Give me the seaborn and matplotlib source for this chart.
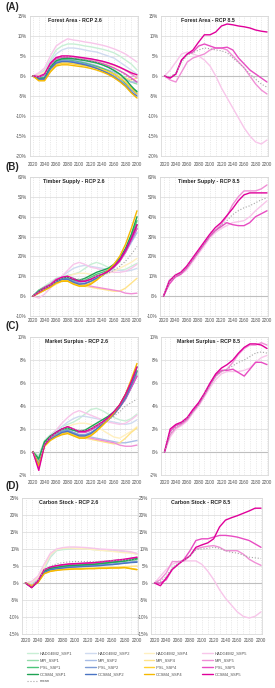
import matplotlib
matplotlib.use('Agg')
import matplotlib.pyplot as plt
import seaborn as sns

# ---------------- data (percent change vs 2020) ----------------
YEARS = list(range(2020, 2201, 10))

MODELS = ['HADGEM2', 'MPI', 'IPSL', 'CCSM4']
SSPS = ['SSP1', 'SSP2', 'SSP4', 'SSP5']

forest_26 = {
    'HADGEM2_SSP1': [0, 0.5, 1.5, 4, 6.5, 7.5, 8, 8, 7.8, 7.5, 7.3, 7, 6.7, 6.3, 5.8, 5, 4, 3, 1.5],
    'HADGEM2_SSP2': [0, 0.5, 1.2, 3.5, 5.5, 6.5, 7, 7, 6.8, 6.5, 6.2, 6, 5.5, 5, 4.5, 3.5, 2.5, 1.5, 0.5],
    'HADGEM2_SSP4': [0, 0.3, 1, 3, 4.5, 5, 5, 4.8, 4.5, 4.2, 4, 3.8, 3.5, 3, 2.5, 2, 1.5, 1, 0],
    'HADGEM2_SSP5': [0, 0.8, 2, 5, 7.5, 8.5, 9.3, 9, 8.8, 8.5, 8.3, 8, 7.7, 7.3, 6.8, 6.2, 5.5, 4.5, 3.5],
    'MPI_SSP1': [0, -0.5, -0.3, 2.5, 4, 4.5, 4.5, 4.3, 4, 3.8, 3.5, 3.2, 2.8, 2.2, 1.5, 0.5, -0.5, -1.5, -2],
    'MPI_SSP2': [0, -0.4, 0, 2.5, 3.8, 4.2, 4.2, 4, 3.7, 3.4, 3, 2.6, 2, 1.5, 1, 0, -1, -1.5, -1.5],
    'MPI_SSP4': [0, -0.8, -0.8, 1.5, 3, 3.5, 3.5, 3.3, 3, 2.7, 2.4, 2, 1.5, 1, 0.5, 0, -0.5, -1, -0.5],
    'MPI_SSP5': [0, 0, 0.5, 3, 4.5, 5, 5, 4.8, 4.6, 4.4, 4.2, 4, 3.6, 3.2, 2.8, 2.2, 1.5, 0.5, -0.5],
    'IPSL_SSP1': [0, -0.6, -0.6, 2, 3.5, 4, 4, 3.8, 3.5, 3.2, 2.8, 2.4, 1.9, 1.3, 0.5, -0.5, -1.8, -3, -3.8],
    'IPSL_SSP2': [0, -0.5, -0.5, 2, 3.5, 3.8, 3.8, 3.6, 3.3, 3, 2.6, 2.1, 1.5, 0.8, 0, -1, -2.2, -3.5, -4.5],
    'IPSL_SSP4': [0, -1, -1, 1.2, 2.8, 3.2, 3.2, 3, 2.8, 2.6, 2.3, 2, 1.6, 1.1, 0.5, -0.5, -1.5, -3, -4.5],
    'IPSL_SSP5': [0, -0.3, 0.3, 2.8, 4.3, 4.6, 4.6, 4.4, 4.2, 4, 3.8, 3.5, 3.1, 2.6, 2, 1.3, 0.5, -0.5, -1.5],
    'CCSM4_SSP1': [0, -0.6, -0.5, 2.2, 3.8, 4.3, 4.4, 4.3, 4.1, 3.9, 3.6, 3.3, 2.8, 2.2, 1.4, 0.5, -0.8, -2.5, -4],
    'CCSM4_SSP2': [0, -0.8, -0.8, 1.8, 3.2, 3.6, 3.6, 3.4, 3.1, 2.8, 2.4, 1.9, 1.3, 0.6, -0.3, -1.3, -2.5, -4, -5],
    'CCSM4_SSP4': [0, -1.2, -1.2, 1, 2.5, 2.8, 2.8, 2.6, 2.4, 2.2, 1.9, 1.5, 1, 0.4, -0.4, -1.4, -2.6, -4.2, -5.5],
    'CCSM4_SSP5': [0, -0.2, 0.5, 3.2, 4.6, 5, 5, 4.9, 4.7, 4.5, 4.3, 4, 3.7, 3.3, 2.8, 2.2, 1.5, 0.8, 0.3],
    'mean': [0, -0.3, 0.2, 2.6, 4.2, 4.7, 4.8, 4.6, 4.3, 4.1, 3.8, 3.5, 3.1, 2.6, 2, 1.2, 0.2, -0.8, -1.5],
}
forest_85 = {
    'HADGEM2_SSP5': [0, 1.5, 3.5, 5.5, 6, 5.5, 5, 4, 2.5, 0, -3, -5.5, -8, -10.5, -13, -15, -16.5, -17, -16],
    'MPI_SSP5': [0, -1, -1.5, 1, 3.5, 4.5, 5, 5.5, 6.5, 7, 7, 6.5, 5, 3.5, 2, 0, -2, -3.5, -4.5],
    'IPSL_SSP5': [0, -0.5, 0.5, 4, 5.5, 6, 7.5, 8, 7.5, 7, 7, 7.2, 6.5, 4.5, 3, 1.5, 0.5, -0.5, -1.5],
    'CCSM4_SSP5': [0, -0.5, 0.5, 4, 5.5, 6.5, 8.5, 10.3, 10.3, 11, 12.5, 13, 12.8, 12.5, 12.3, 12, 11.5, 11.2, 11],
    'mean': [0, -0.2, 0.8, 3.5, 5.2, 5.8, 6.5, 7, 6.8, 6.5, 6.3, 5.8, 4.5, 3.3, 2, 0.5, -0.8, -2, -2.8],
}

timber_26 = {
    'HADGEM2_SSP1': [0, 3, 5, 7, 9, 10, 10.5, 11, 12, 14, 16, 17, 16, 14.5, 13.5, 13, 13.5, 15, 16.5],
    'HADGEM2_SSP2': [0, 2, 4, 6, 8, 10, 12, 14, 15, 15.5, 15, 14.5, 14, 13.5, 13, 13, 12.5, 13, 14],
    'HADGEM2_SSP4': [0, 2, 3.5, 5, 7, 8.5, 10, 11, 11.5, 11.5, 11, 10.5, 11, 11.5, 12.5, 14, 15.5, 17, 19],
    'HADGEM2_SSP5': [0, -1, 1, 4, 7, 10, 13, 16, 17, 16, 14.5, 14, 13, 12.5, 12, 12, 12.5, 14, 16],
    'MPI_SSP1': [0, 2.5, 4, 5.5, 7.5, 9, 9.5, 8.5, 7.5, 7.5, 8.5, 10, 11, 12.5, 14.5, 17.5, 22, 28, 35],
    'MPI_SSP2': [0, 2, 3.5, 5, 7, 8.5, 9, 7.5, 6.5, 6.5, 7.5, 9, 10.5, 12.5, 15, 18, 22, 27, 32],
    'MPI_SSP4': [0, 1.5, 3, 4.5, 6, 7.5, 8, 7, 6, 5, 4.5, 4, 3.5, 3, 2.5, 2.5, 4, 6.5, 9],
    'MPI_SSP5': [0, 1.5, 3, 5, 7, 8.5, 9, 8, 7, 6, 5, 4.5, 4, 3.5, 3, 2.5, 1.5, 1.2, 1.5],
    'IPSL_SSP1': [0, 3, 4.5, 6, 8, 9, 9, 8, 7.5, 8, 9.5, 11, 12, 13, 15, 18, 23, 30, 38],
    'IPSL_SSP2': [0, 2.5, 4, 5.5, 7.5, 9, 9, 7.5, 6.5, 6.5, 7.5, 9, 10.5, 12.5, 15, 18, 23, 28, 34],
    'IPSL_SSP4': [0, 2, 3.5, 5, 7, 8, 8, 6.5, 5.5, 5.5, 6.5, 8.5, 10.5, 12.5, 15, 18, 23, 29, 36],
    'IPSL_SSP5': [0, 2.5, 4.5, 6, 8.5, 9.5, 10, 9, 7.5, 7.5, 8.5, 10, 11, 12.5, 14.5, 17.5, 22, 28, 34],
    'CCSM4_SSP1': [0, 2.5, 4, 5.5, 7.5, 9, 9.5, 8.5, 8, 9, 10.5, 12, 13, 14, 16, 19, 24, 31, 40],
    'CCSM4_SSP2': [0, 2, 3.5, 5, 7, 8.5, 8.5, 7, 6, 6.3, 7.5, 9, 10.5, 12.5, 15, 18.5, 23, 29, 36],
    'CCSM4_SSP4': [0, 1.5, 3, 4.5, 6.5, 7.5, 7.5, 6, 5, 5, 6, 8, 10.5, 13, 16, 20, 26, 34, 43],
    'CCSM4_SSP5': [0, 2, 4, 5.5, 8, 9.5, 10, 8.5, 7.5, 7.5, 8.5, 10, 11, 12.5, 15, 18, 23, 29, 36],
    'mean': [0, 2.2, 3.8, 5.5, 7.5, 9, 9.5, 9, 8.5, 8.5, 9, 10, 10.5, 11.5, 13, 15, 17.5, 21, 25],
}
timber_85 = {
    'HADGEM2_SSP5': [0, 7, 10, 11, 13, 17, 21, 25, 29, 32, 34, 35.5, 37, 37.5, 38, 40, 43, 45.5, 48],
    'MPI_SSP5': [0, 8, 10, 11.5, 14, 18, 22, 26, 30, 33, 36, 40, 46, 50, 53, 53, 53, 54, 56],
    'IPSL_SSP5': [0, 6, 9.5, 11, 14, 18, 22, 26, 30, 33, 35, 37, 36, 35.5, 35.5, 37, 40, 41.5, 43],
    'CCSM4_SSP5': [0, 7.5, 10.5, 12, 15, 19, 23, 27, 31, 34.5, 37, 40.5, 44, 48, 51, 52, 52, 52, 52],
    'mean': [0, 7, 10, 11.5, 14, 18, 22, 26, 30, 33, 35.5, 38, 41, 43, 44.5, 45.5, 47, 48.5, 49.5],
}

market_26 = {
    'HADGEM2_SSP1': [0, -0.3, 1.0, 1.5, 1.9, 2.2, 2.4, 2.6, 2.9, 3.3, 3.7, 3.8, 3.6, 3.3, 3.0, 2.8, 2.7, 2.9, 3.3],
    'HADGEM2_SSP2': [0, -0.4, 0.9, 1.4, 1.8, 2.2, 2.6, 2.9, 3.1, 3.1, 3.0, 2.9, 2.8, 2.7, 2.6, 2.5, 2.4, 2.5, 2.8],
    'HADGEM2_SSP4': [0, -0.6, 0.8, 1.3, 1.6, 1.9, 2.2, 2.4, 2.5, 2.5, 2.4, 2.2, 1.9, 1.6, 1.3, 1.2, 1.5, 1.8, 2.2],
    'HADGEM2_SSP5': [0, -1.3, 0.6, 1.3, 1.9, 2.5, 3.0, 3.4, 3.6, 3.4, 3.2, 3.0, 2.8, 2.6, 2.5, 2.4, 2.5, 2.8, 3.2],
    'MPI_SSP1': [0, -0.5, 0.9, 1.3, 1.6, 1.9, 2.0, 1.9, 1.7, 1.7, 1.9, 2.2, 2.5, 2.9, 3.3, 3.9, 4.6, 5.6, 6.8],
    'MPI_SSP2': [0, -0.9, 0.7, 1.2, 1.5, 1.8, 1.9, 1.7, 1.5, 1.4, 1.3, 1.2, 1.1, 1.0, 0.9, 0.8, 0.8, 0.9, 1.0],
    'MPI_SSP4': [0, -0.8, 0.7, 1.2, 1.5, 1.7, 1.7, 1.5, 1.3, 1.2, 1.1, 1.0, 0.9, 0.8, 0.7, 0.8, 1.2, 1.7, 2.1],
    'MPI_SSP5': [0, -1.1, 0.7, 1.2, 1.5, 1.7, 1.8, 1.6, 1.4, 1.3, 1.2, 1.1, 1.0, 0.9, 0.8, 0.6, 0.5, 0.5, 0.6],
    'IPSL_SSP1': [0, -0.7, 0.8, 1.3, 1.6, 1.9, 2.0, 1.9, 1.7, 1.8, 2.0, 2.3, 2.6, 3.0, 3.4, 4.0, 4.8, 5.9, 7.1],
    'IPSL_SSP2': [0, -1.0, 0.7, 1.2, 1.5, 1.8, 1.9, 1.7, 1.5, 1.5, 1.7, 2.0, 2.4, 2.8, 3.3, 3.9, 4.6, 5.6, 6.6],
    'IPSL_SSP4': [0, -1.0, 0.6, 1.1, 1.4, 1.6, 1.7, 1.5, 1.3, 1.3, 1.5, 1.9, 2.3, 2.8, 3.3, 3.9, 4.7, 5.8, 7.0],
    'IPSL_SSP5': [0, -1.4, 0.7, 1.3, 1.7, 2.0, 2.2, 2.0, 1.7, 1.7, 1.9, 2.2, 2.5, 2.9, 3.3, 3.9, 4.6, 5.6, 6.6],
    'CCSM4_SSP1': [0, -0.6, 0.9, 1.4, 1.7, 2.0, 2.1, 1.9, 1.8, 1.9, 2.2, 2.5, 2.8, 3.1, 3.5, 4.1, 5.0, 6.1, 7.4],
    'CCSM4_SSP2': [0, -1.1, 0.6, 1.1, 1.4, 1.7, 1.8, 1.6, 1.4, 1.4, 1.6, 2.0, 2.4, 2.8, 3.3, 3.9, 4.7, 5.8, 7.0],
    'CCSM4_SSP4': [0, -1.2, 0.5, 1.0, 1.3, 1.5, 1.6, 1.4, 1.2, 1.2, 1.4, 1.8, 2.3, 2.8, 3.4, 4.1, 5.0, 6.3, 7.7],
    'CCSM4_SSP5': [0, -1.6, 0.6, 1.3, 1.7, 2.0, 2.2, 2.0, 1.8, 1.8, 2.0, 2.3, 2.6, 3.0, 3.5, 4.1, 5.0, 6.1, 7.4],
    'mean': [0, -0.9, 0.7, 1.3, 1.6, 1.9, 2.1, 2.0, 1.9, 1.9, 2.0, 2.3, 2.5, 2.8, 3.1, 3.5, 4.0, 4.3, 4.6],
}
market_85 = {
    'HADGEM2_SSP5': [0, 1.3, 2.0, 2.3, 2.7, 3.4, 4.0, 4.8, 5.6, 6.3, 6.8, 7.0, 7.0, 7.0, 7.1, 7.3, 7.8, 8.2, 8.4],
    'MPI_SSP5': [0, 1.5, 2.1, 2.4, 2.8, 3.5, 4.1, 4.9, 5.8, 6.6, 7.0, 7.2, 7.8, 8.5, 9.0, 9.3, 9.3, 9.5, 9.3],
    'IPSL_SSP5': [0, 1.8, 2.3, 2.5, 2.9, 3.6, 4.2, 5.0, 5.9, 6.7, 7.1, 7.1, 7.2, 6.9, 6.6, 7.2, 7.8, 7.8, 7.6],
    'CCSM4_SSP5': [0, 2.0, 2.4, 2.6, 3.0, 3.7, 4.3, 5.1, 6.0, 6.8, 7.3, 7.6, 8.0, 8.6, 9.1, 9.4, 9.4, 9.3, 9.0],
    'mean': [0, 1.6, 2.2, 2.5, 2.9, 3.5, 4.1, 5.0, 5.8, 6.6, 7.0, 7.2, 7.5, 7.8, 8.0, 8.3, 8.6, 8.7, 8.6],
}

carbon_26 = {
    'HADGEM2_SSP1': [0, -0.2, 1, 4, 7.5, 9.5, 9.8, 10, 10.2, 10.2, 10, 9.8, 9.7, 9.5, 9.5, 9.3, 9.2, 9, 8.5],
    'HADGEM2_SSP2': [0, 0, 1.2, 4.5, 8, 9.8, 10.2, 10.3, 10.3, 10.2, 10.1, 10, 9.8, 9.7, 9.6, 9.4, 9.2, 9, 8.6],
    'HADGEM2_SSP4': [0, 0.3, 1.5, 4.8, 8.3, 9.8, 10.2, 10.3, 10.2, 10.1, 10, 9.8, 9.6, 9.5, 9.3, 9.1, 8.9, 8.8, 8.5],
    'HADGEM2_SSP5': [0, 0.5, 2, 5.5, 8.7, 10, 10.4, 10.6, 10.6, 10.5, 10.4, 10.2, 10, 9.9, 9.8, 9.6, 9.4, 9.2, 8.7],
    'MPI_SSP1': [0, -1, 0.5, 3.5, 4.3, 4.6, 5, 5.2, 5.3, 5.4, 5.5, 5.6, 5.8, 6, 6.2, 6.4, 6.6, 6.8, 7],
    'MPI_SSP2': [0, -0.8, 0.5, 3.3, 4, 4.3, 4.6, 4.8, 4.9, 5, 5.1, 5.2, 5.3, 5.5, 5.6, 5.8, 6, 6.2, 6.4],
    'MPI_SSP4': [0, -0.6, 0.3, 3, 3.7, 3.9, 4.1, 4.2, 4.3, 4.3, 4.4, 4.4, 4.5, 4.6, 4.6, 4.7, 4.8, 4.9, 5],
    'MPI_SSP5': [0, -0.8, 0.8, 3.8, 4.5, 4.8, 5.2, 5.4, 5.5, 5.6, 5.7, 5.8, 6, 6.2, 6.4, 6.6, 6.8, 7, 7.3],
    'IPSL_SSP1': [0, -1.2, 0.4, 3.3, 4.2, 4.5, 4.8, 5, 5.1, 5.2, 5.3, 5.4, 5.6, 5.8, 6, 6.2, 6.4, 6.7, 6.9],
    'IPSL_SSP2': [0, -1, 0.4, 3.2, 4, 4.3, 4.5, 4.7, 4.8, 4.9, 5, 5.1, 5.2, 5.4, 5.5, 5.7, 5.9, 6.1, 6.3],
    'IPSL_SSP4': [0, -0.8, 0.2, 2.8, 3.5, 3.8, 4, 4.1, 4.2, 4.2, 4.3, 4.3, 4.4, 4.4, 4.5, 4.5, 4.6, 4.3, 4],
    'IPSL_SSP5': [0, -1.3, 0.6, 3.8, 4.6, 5, 5.3, 5.5, 5.6, 5.7, 5.8, 5.9, 6.1, 6.3, 6.5, 6.7, 6.9, 7.2, 7.5],
    'CCSM4_SSP1': [0, -1.3, 0.3, 3.4, 4.3, 4.6, 4.9, 5.1, 5.2, 5.3, 5.4, 5.5, 5.7, 5.9, 6.1, 6.3, 6.5, 6.8, 7.2],
    'CCSM4_SSP2': [0, -1.1, 0.3, 3.1, 3.9, 4.2, 4.4, 4.6, 4.7, 4.8, 4.9, 5, 5.1, 5.3, 5.4, 5.6, 5.8, 6, 6.1],
    'CCSM4_SSP4': [0, -0.9, 0.1, 2.7, 3.4, 3.7, 3.9, 4, 4.1, 4.1, 4.2, 4.2, 4.3, 4.3, 4.4, 4.4, 4.5, 4.2, 3.9],
    'CCSM4_SSP5': [0, -1.4, 0.5, 3.9, 4.7, 5.1, 5.4, 5.6, 5.7, 5.8, 5.9, 6, 6.2, 6.4, 6.6, 6.8, 7, 7.3, 7.6],
    'mean': [0, -0.6, 0.8, 3.8, 5, 5.6, 6, 6.2, 6.3, 6.3, 6.3, 6.3, 6.4, 6.5, 6.6, 6.7, 6.8, 6.8, 6.8],
}
carbon_85 = {
    'HADGEM2_SSP5': [0, 2, 4, 5.5, 6.2, 6.5, 6.5, 6.5, 5.5, 3.5, 1, -2, -4.5, -6.5, -8.5, -9.8, -10.3, -9.8, -8.5],
    'MPI_SSP5': [0, 1, 3, 6.3, 6.3, 6.5, 8, 10, 10.5, 10.8, 11, 10.5, 9.5, 9.5, 9.5, 8.5, 7, 6, 5.2],
    'IPSL_SSP5': [0, 0, 1, 4, 5.5, 7, 9.5, 12.5, 13, 13, 13.5, 14, 14, 13.8, 13.5, 13, 12.5, 11.5, 10.5],
    'CCSM4_SSP5': [0, -0.8, 1.5, 4, 5.5, 6.8, 8, 10.5, 11.2, 11.8, 13, 16.5, 18.5, 19.2, 19.8, 20.5, 21.2, 22, 22],
    'mean': [0, 0.5, 2, 4.5, 5.8, 6.7, 8, 9.8, 10, 10.2, 10.5, 10.2, 9.5, 9, 8.8, 8.2, 7.6, 7.4, 7.2],
}

# ---------------- style ----------------
COLORS = {
    'HADGEM2_SSP1': '#c8efd5', 'MPI_SSP1': '#93dcab', 'IPSL_SSP1': '#4cc47a', 'CCSM4_SSP1': '#1fa354',
    'HADGEM2_SSP2': '#cfdbf0', 'MPI_SSP2': '#a8bde6', 'IPSL_SSP2': '#7c9bd6', 'CCSM4_SSP2': '#4a74c4',
    'HADGEM2_SSP4': '#fff0c0', 'MPI_SSP4': '#ffe38a', 'IPSL_SSP4': '#ffd030', 'CCSM4_SSP4': '#f5b800',
    'HADGEM2_SSP5': '#f8c6ea', 'MPI_SSP5': '#f08fd6', 'IPSL_SSP5': '#e84cc2', 'CCSM4_SSP5': '#e0009a',
    'mean': '#a6a6a6',
}
GRID = '#d9d9d9'
AXIS = '#bfbfbf'
TEXT = '#505050'

sns.set_theme(style='white')
plt.rcParams['font.family'] = ['Liberation Sans', 'DejaVu Sans']

W, H = 275, 688
fig = plt.figure(figsize=(W / 100, H / 100), dpi=100)


def add_axes(l, r, t, b):
    ax = fig.add_axes([l / W, 1 - b / H, (r - l) / W, (b - t) / H])
    # 2020 sits ~3.5px right of the axis, 2200 ~1px before the right edge
    k = (r - 1 - (l + 3.5)) / 180.0
    ax.set_xlim(2020 - 3.5 / k, 2200 + 1 / k)
    return ax


def draw_panel(ax, data, title, ylim, ystep, title_x, xpad):
    for name, vals in data.items():
        is_mean = name == 'mean'
        sns.lineplot(x=YEARS, y=vals, ax=ax, color=COLORS[name], label=name,
                     linewidth=0.8 if is_mean else 1.0,
                     linestyle=':' if is_mean else '-', legend=False)
    ax.set_ylim(*ylim)
    ax.set_yticks(range(ylim[0], ylim[1] + 1, ystep))
    ax.set_yticklabels([f'{v}%' for v in range(ylim[0], ylim[1] + 1, ystep)])
    ax.set_xticks(range(2020, 2201, 20))
    ax.set_xticks(range(2030, 2200, 20), minor=True)
    ax.grid(axis='y', which='major', color=GRID, linewidth=0.5)
    ax.grid(axis='x', which='both', color=GRID, linewidth=0.4, linestyle=(0, (2, 2)))
    ax.axhline(0, color=AXIS, linewidth=0.8, zorder=1)
    ax.tick_params(axis='both', which='both', length=0, labelsize=3.3, colors=TEXT)
    ax.tick_params(axis='y', pad=2)
    ax.tick_params(axis='x', pad=xpad)
    for sp in ax.spines.values():
        sp.set_color(GRID)
        sp.set_linewidth(0.6)
    ax.set_xlabel('')
    ax.set_ylabel('')
    ax.text(title_x, 1 - 5 / ((ax.get_position().height) * H), title, transform=ax.transAxes,
            ha='center', va='center', fontsize=3.8, fontweight='bold', color='#262626')


rows = [
    # label, label_y, (top, bottom), left box, right box, xpad, panels, ylim, ystep
    ('(A)', 7.5, (16, 156), (29.5, 138), (161, 268), 4.0,
     (forest_26, 'Forest Area - RCP 2.6', 0.42), (forest_85, 'Forest Area - RCP 8.5', 0.44), (-20, 15), 5),
    ('(B)', 167, (177, 316), (29.5, 138), (160, 268), 1.8,
     (timber_26, 'Timber Supply - RCP 2.6', 0.41), (timber_85, 'Timber Supply - RCP 8.5', 0.45), (-10, 60), 10),
    ('(C)', 326, (337, 475), (29.5, 138), (161, 268), 3.5,
     (market_26, 'Market Surplus - RCP 2.6', 0.43), (market_85, 'Market Surplus - RCP 8.5', 0.44), (-2, 10), 2),
    ('(D)', 486, (498, 634), (22, 138), (151, 262), 3.2,
     (carbon_26, 'Carbon Stock - RCP 2.6', 0.405), (carbon_85, 'Carbon Stock - RCP 8.5', 0.45), (-15, 25), 5),
]

legend_ax = None
for lab, lab_y, (t, b), (l1, r1), (l2, r2), xpad, p26, p85, ylim, ystep in rows:
    fig.text(5 / W, 1 - lab_y / H, lab, fontsize=7, fontweight='bold', va='center', ha='left')
    ax1 = add_axes(l1, r1, t, b)
    draw_panel(ax1, p26[0], p26[1], ylim, ystep, p26[2], xpad)
    ax2 = add_axes(l2, r2, t, b)
    draw_panel(ax2, p85[0], p85[1], ylim, ystep, p85[2], xpad)
    if legend_ax is None:
        legend_ax = ax1

# legend: rows are models, columns are SSPs (matplotlib fills columns first)
handles, labels = legend_ax.get_legend_handles_labels()
lookup = dict(zip(labels, handles))
order = []
for s in SSPS:
    order += [f'{m}_{s}' for m in MODELS]
    if s == 'SSP1':
        order.append('mean')
leg = fig.legend([lookup[n] for n in order], order, loc='upper left',
                 bbox_to_anchor=(27 / W, 1 - 651 / H), ncol=4, frameon=False,
                 fontsize=2.9, handlelength=2.7, handletextpad=0.4,
                 columnspacing=3.3, labelspacing=0.75, borderpad=0, borderaxespad=0)
for txt in leg.get_texts():
    txt.set_color(TEXT)

fig.savefig('out.png', dpi=100, facecolor='white')
